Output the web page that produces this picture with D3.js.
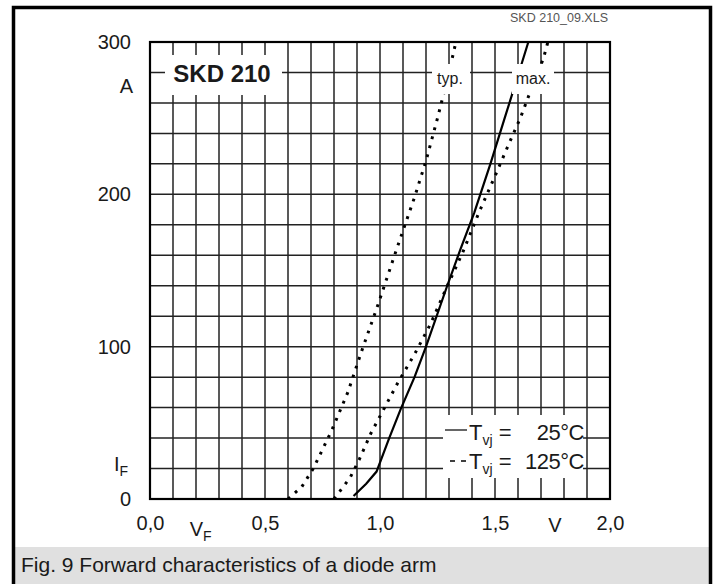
<!DOCTYPE html>
<html lang="en">
<head>
<meta charset="UTF-8" />
<title>SKD 210 - Fig. 9</title>
<script src="https://d3js.org/d3.v7.min.js"></script>
<style>
  body { margin: 0; background: #fff; }
  svg text { font-family: "Liberation Sans", Arial, Helvetica, sans-serif; fill: #1a1a1a; }
  .grid line { stroke: #222; stroke-width: 1.5; }
  .axis path, .axis line { display: none; }
  .axis text { font-size: 20px; }
</style>
</head>
<body>
<div id="chart"></div>
<script>
    // Achsen / Beschriftungen
    const xTicks = [0, 0.5, 1.0, 1.5, 2.0];
    const xTickLabels = ["0,0", "0,5", "1,0", "1,5", "2,0"];
    const yTicks = [0, 100, 200, 300];
    const yTickLabels = ["0", "100", "200", "300"];

    const typ125V = [0.60, 0.66, 0.71, 0.79, 0.86, 0.92, 0.99, 1.07, 1.15, 1.20, 1.25, 1.30, 1.33];
    const typ125A = [0, 8, 20, 45, 70, 97, 127, 163, 198, 222, 250, 280, 300];

    const max125V = [0.80, 0.83, 0.87, 0.91, 0.96, 1.02, 1.08, 1.15, 1.22, 1.29, 1.36, 1.43, 1.50, 1.56, 1.61, 1.66, 1.71, 1.73];
    const max125A = [0, 6, 14, 26, 43, 60, 77, 95, 115, 139, 162, 188, 212, 233, 250, 270, 289, 300];

    const max25V = [0.885, 0.94, 0.985, 1.04, 1.09, 1.15, 1.20, 1.29, 1.35, 1.41, 1.48, 1.54, 1.60, 1.645];
    const max25A = [2, 10, 18, 40, 59, 80, 100, 139, 164, 188, 220, 249, 278, 300];

    const W = 718, H = 584;
    const m = { left: 150, top: 42, right: 108, bottom: 85 };
    const w = W - m.left - m.right;   // 460
    const h = H - m.top - m.bottom;   // 457

    const svg = d3.select("#chart").append("svg")
        .attr("width", W)
        .attr("height", H);

    // Rahmen und Bildunterschrift
    svg.append("rect")
        .attr("x", 15).attr("y", 547).attr("width", 694).attr("height", 40)
        .attr("fill", "#e0e0e0");
    svg.append("rect")
        .attr("x", 13.5).attr("y", 7.5).attr("width", 697).attr("height", 600)
        .attr("fill", "none").attr("stroke", "#000").attr("stroke-width", 3.5);
    svg.append("text")
        .attr("x", 21).attr("y", 572)
        .style("font-size", "21px")
        .text("Fig. 9 Forward characteristics of a diode arm");
    svg.append("text")
        .attr("x", 608).attr("y", 22)
        .attr("text-anchor", "end")
        .style("font-size", "12.5px").style("fill", "#555")
        .text("SKD 210_09.XLS");

    const x = d3.scaleLinear().domain([0, 2]).range([0, w]);
    const y = d3.scaleLinear().domain([0, 300]).range([h, 0]);

    const g = svg.append("g").attr("transform", `translate(${m.left},${m.top})`);

    // Gitter
    const grid = g.append("g").attr("class", "grid");
    grid.selectAll(".vx").data(x.ticks(20)).enter().append("line")
        .attr("x1", d => x(d)).attr("x2", d => x(d))
        .attr("y1", 0).attr("y2", h);
    grid.selectAll(".hy").data(y.ticks(15)).enter().append("line")
        .attr("x1", 0).attr("x2", w)
        .attr("y1", d => y(d)).attr("y2", d => y(d));

    // Kurven
    const line = d3.line().x(d => x(d[0])).y(d => y(d[1]));
    const curves = [
        { v: typ125V, a: typ125A, dash: "2.8,6.5", width: 3 },
        { v: max125V, a: max125A, dash: "2.8,6.5", width: 3 },
        { v: max25V, a: max25A, dash: null, width: 2.2 }
    ];
    curves.forEach(c => {
        g.append("path")
            .datum(d3.zip(c.v, c.a))
            .attr("d", line)
            .attr("fill", "none")
            .attr("stroke", "#000")
            .attr("stroke-width", c.width)
            .attr("stroke-dasharray", c.dash);
    });

    // Weisse Felder fuer Beschriftungen im Diagramm
    const boxes = [
        { x0: 165, x1: 282, y0: 55, y1: 95 },
        { x0: 432, x1: 470, y0: 64, y1: 94 },
        { x0: 512, x1: 554, y0: 64, y1: 94 },
        { x0: 443, x1: 583, y0: 415, y1: 478 }
    ];
    boxes.forEach(b => {
        svg.append("rect")
            .attr("x", b.x0).attr("y", b.y0)
            .attr("width", b.x1 - b.x0).attr("height", b.y1 - b.y0)
            .attr("fill", "#fff");
    });

    // Rahmen Diagramm
    g.append("rect")
        .attr("width", w).attr("height", h)
        .attr("fill", "none").attr("stroke", "#000").attr("stroke-width", 2.2);

    svg.append("text")
        .attr("x", 222).attr("y", 82)
        .attr("text-anchor", "middle")
        .style("font-size", "24px").style("font-weight", "bold")
        .text("SKD 210");
    svg.append("text")
        .attr("x", 450).attr("y", 84)
        .attr("text-anchor", "middle")
        .style("font-size", "16px")
        .text("typ.");
    svg.append("text")
        .attr("x", 533).attr("y", 84)
        .attr("text-anchor", "middle")
        .style("font-size", "16px")
        .text("max.");

    // Legende
    svg.append("line")
        .attr("x1", 445).attr("x2", 467).attr("y1", 430).attr("y2", 430)
        .attr("stroke", "#000").attr("stroke-width", 1.2);
    svg.append("line")
        .attr("x1", 450).attr("x2", 468).attr("y1", 461).attr("y2", 461)
        .attr("stroke", "#000").attr("stroke-width", 1.4)
        .attr("stroke-dasharray", "5,6");
    [{ yb: 440, val: "25°C" }, { yb: 469, val: "125°C" }].forEach(r => {
        const t = svg.append("text").attr("x", 469).attr("y", r.yb).style("font-size", "22px");
        t.append("tspan").text("T");
        t.append("tspan").attr("dy", 5).style("font-size", "14px").text("vj");
        t.append("tspan").attr("dy", -5).text(" =");
        svg.append("text")
            .attr("x", 584).attr("y", r.yb)
            .attr("text-anchor", "end")
            .style("font-size", "22px")
            .style("letter-spacing", "-0.5px")
            .text(r.val);
    });

    // Achsen
    g.append("g").attr("class", "axis")
        .attr("transform", `translate(0,${h + 14})`)
        .call(d3.axisBottom(x).tickValues(xTicks).tickSize(0)
            .tickFormat((d, i) => xTickLabels[i]));
    g.append("g").attr("class", "axis")
        .attr("transform", "translate(-16,0)")
        .call(d3.axisLeft(y).tickValues(yTicks).tickSize(0)
            .tickFormat((d, i) => yTickLabels[i]));

    // Einheiten
    const vf = g.append("text").attr("x", x(0.22)).attr("y", h + 37)
        .attr("text-anchor", "middle").style("font-size", "20px");
    vf.append("tspan").text("V");
    vf.append("tspan").attr("dy", 5).style("font-size", "14px").text("F");
    g.append("text").attr("x", x(1.76)).attr("y", h + 33)
        .attr("text-anchor", "middle").style("font-size", "20px").text("V");
    g.append("text").attr("x", -17).attr("y", y(271) + 7)
        .attr("text-anchor", "end").style("font-size", "20px").text("A");
    const iF = g.append("text").attr("x", -22).attr("y", y(22) + 6)
        .attr("text-anchor", "end").style("font-size", "20px");
    iF.append("tspan").text("I");
    iF.append("tspan").attr("dy", 5).style("font-size", "14px").text("F");
</script>
</body>
</html>
